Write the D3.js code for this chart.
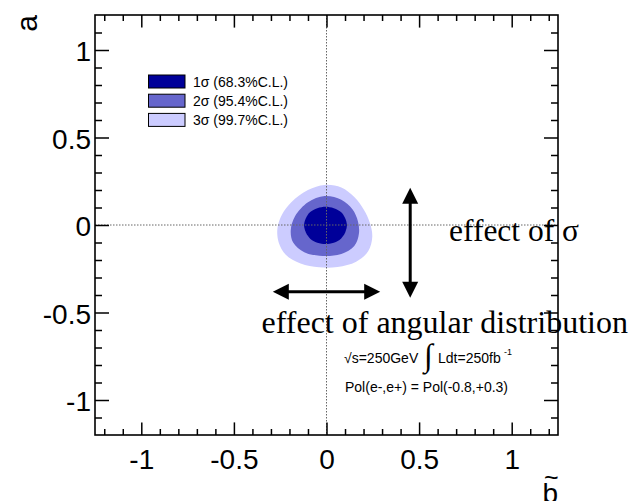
<!DOCTYPE html>
<html>
<head>
<meta charset="utf-8">
<script src="https://cdn.jsdelivr.net/npm/d3@7"></script>
<style>
  html, body { margin: 0; padding: 0; background: #fff; }
  svg { display: block; }
</style>
</head>
<body>
<svg id="chart" width="629" height="501"></svg>
<script>
// ---------------- data ----------------
const xTickValues = [-1, -0.5, 0, 0.5, 1];
const xTickLabels = ["-1", "-0.5", "0", "0.5", "1"];
const yTickValues = [-1, -0.5, 0, 0.5, 1];
const yTickLabels = ["-1", "-0.5", "0", "0.5", "1"];
const xMinorTicks = [-1.2,-1.1,-0.9,-0.8,-0.7,-0.6,-0.4,-0.3,-0.2,-0.1,0.1,0.2,0.3,0.4,0.6,0.7,0.8,0.9,1.1,1.2];
const yMinorTicks = [-1.1,-0.9,-0.8,-0.7,-0.6,-0.4,-0.3,-0.2,-0.1,0.1,0.2,0.3,0.4,0.6,0.7,0.8,0.9,1.1];

const legendLabels = ["1σ (68.3%C.L.)", "2σ (95.4%C.L.)", "3σ (99.7%C.L.)"];
const legendColors = ["#000099", "#6666cc", "#ccccff"];

// contour outlines, [b~, a~]
const contour3sigma = [
  [-0.01, 0.229], [0.08, 0.215], [0.15, 0.16], [0.2, 0.09], [0.235, 0.01],
  [0.247, -0.07], [0.225, -0.15], [0.16, -0.21], [0.06, -0.24], [-0.04, -0.242],
  [-0.14, -0.22], [-0.22, -0.17], [-0.258, -0.1], [-0.265, -0.02], [-0.24, 0.06],
  [-0.19, 0.13], [-0.1, 0.2]
];
const contour2sigma = [
  [-0.01, 0.166], [0.08, 0.145], [0.14, 0.09], [0.17, 0.02], [0.175, -0.05],
  [0.15, -0.12], [0.08, -0.165], [-0.02, -0.177], [-0.12, -0.155], [-0.18, -0.1],
  [-0.193, -0.03], [-0.17, 0.05], [-0.1, 0.13]
];
const contour1sigma = [
  [-0.005, 0.105], [0.078, 0.074], [0.11, -0.002], [0.078, -0.078],
  [-0.005, -0.109], [-0.088, -0.078], [-0.121, -0.002], [-0.088, 0.074]
];
const contours = [contour3sigma, contour2sigma, contour1sigma];
const contourColors = ["#ccccff", "#6666cc", "#000099"];

// annotation arrows [[b1,a1],[b2,a2]]
const arrowAngular = [[-0.29, -0.381], [0.29, -0.381]];
const arrowSigma = [[0.452, 0.213], [0.452, -0.415]];

// ---------------- chart ----------------
const svg = d3.select("#chart");
const L = 95, R = 558, T = 15, B = 435;
const x = d3.scaleLinear().domain([-1.25, 1.25]).range([L, R]);
const y = d3.scaleLinear().domain([-1.2, 1.2]).range([B, T]);

const sans = "'Liberation Sans', Arial, Helvetica, sans-serif";
const serif = "'Liberation Serif', 'Times New Roman', serif";

// contours
const line = d3.line().x(d => x(d[0])).y(d => y(d[1])).curve(d3.curveCatmullRomClosed.alpha(0.5));
svg.append("g").selectAll("path").data(contours).join("path")
  .attr("d", d => line(d))
  .attr("fill", (d, i) => contourColors[i])
  .attr("stroke", "none");

// dotted zero lines
svg.append("line").attr("x1", x(0)).attr("x2", x(0)).attr("y1", T).attr("y2", B)
  .attr("stroke", "#666").attr("stroke-width", 1).attr("stroke-dasharray", "1.5,1.5");
svg.append("line").attr("x1", L).attr("x2", R).attr("y1", y(0)).attr("y2", y(0))
  .attr("stroke", "#666").attr("stroke-width", 1).attr("stroke-dasharray", "1.5,1.5");

// axes
function styleAxis(g) {
  g.select(".domain").remove();
  g.selectAll(".tick line").attr("stroke", "#000").attr("stroke-width", 1.5);
  g.selectAll(".tick text").attr("fill", "#000").style("font-family", sans).style("font-size", "28px");
}
svg.append("g").attr("transform", `translate(0,${B})`)
  .call(d3.axisBottom(x).tickValues(xTickValues).tickFormat((d, i) => xTickLabels[i]).tickSize(-12.6).tickPadding(14))
  .call(styleAxis);
svg.append("g").attr("transform", `translate(0,${B})`)
  .call(d3.axisBottom(x).tickValues(xMinorTicks).tickFormat("").tickSize(-6))
  .call(styleAxis);
svg.append("g").attr("transform", `translate(0,${T})`)
  .call(d3.axisTop(x).tickValues(xTickValues).tickFormat("").tickSize(-12.6))
  .call(styleAxis);
svg.append("g").attr("transform", `translate(0,${T})`)
  .call(d3.axisTop(x).tickValues(xMinorTicks).tickFormat("").tickSize(-6))
  .call(styleAxis);
const gl = svg.append("g").attr("transform", `translate(${L},0)`)
  .call(d3.axisLeft(y).tickValues(yTickValues).tickFormat((d, i) => yTickLabels[i]).tickSize(-14).tickPadding(4))
  .call(styleAxis);
gl.selectAll(".tick text").attr("dy", "0.38em");
svg.append("g").attr("transform", `translate(${L},0)`)
  .call(d3.axisLeft(y).tickValues(yMinorTicks).tickFormat("").tickSize(-7))
  .call(styleAxis);
svg.append("g").attr("transform", `translate(${R},0)`)
  .call(d3.axisRight(y).tickValues(yTickValues).tickFormat("").tickSize(-14))
  .call(styleAxis);
svg.append("g").attr("transform", `translate(${R},0)`)
  .call(d3.axisRight(y).tickValues(yMinorTicks).tickFormat("").tickSize(-7))
  .call(styleAxis);

// axis titles
svg.append("text").attr("transform", `translate(37,${T}) rotate(-90)`)
  .attr("text-anchor", "end").style("font-family", sans).style("font-size", "30px")
  .text("a");
svg.append("text").attr("x", R).attr("y", 503).attr("text-anchor", "end")
  .style("font-family", sans).style("font-size", "28px").text("b");
svg.append("text").attr("x", R + 0.5).attr("y", 486).attr("text-anchor", "end")
  .style("font-family", sans).style("font-size", "25px").text("~");

// arrows
function arrow(pts) {
  const p1 = [x(pts[0][0]), y(pts[0][1])], p2 = [x(pts[1][0]), y(pts[1][1])];
  const dx = p2[0] - p1[0], dy = p2[1] - p1[1], len = Math.hypot(dx, dy);
  const ux = dx / len, uy = dy / len, nx = -uy, ny = ux;
  const hl = 16, hw = 8;
  const g = svg.append("g");
  g.append("line")
    .attr("x1", p1[0] + ux * (hl - 2)).attr("y1", p1[1] + uy * (hl - 2))
    .attr("x2", p2[0] - ux * (hl - 2)).attr("y2", p2[1] - uy * (hl - 2))
    .attr("stroke", "#000").attr("stroke-width", 3);
  const head = (tip, sx, sy) => {
    const bx = tip[0] + sx * hl, by = tip[1] + sy * hl;
    return `M${tip[0]},${tip[1]}L${bx + nx * hw},${by + ny * hw}L${bx - nx * hw},${by - ny * hw}Z`;
  };
  g.append("path").attr("d", head(p2, -ux, -uy)).attr("fill", "#000");
  g.append("path").attr("d", head(p1, ux, uy)).attr("fill", "#000");
}
arrow(arrowAngular);
arrow(arrowSigma);

// effect texts
svg.append("text").attr("x", 449).attr("y", 241)
  .style("font-family", serif).style("font-size", "31.5px").text("effect of σ");
svg.append("text").attr("x", 261.5).attr("y", 333)
  .style("font-family", serif).style("font-size", "32px").text("effect of angular distribution");

// run conditions
const ann = svg.append("g").style("font-family", sans).attr("fill", "#000");
ann.append("text").attr("x", 344).attr("y", 363).style("font-size", "14px").text("√s=250GeV");
ann.append("text").attr("x", 424).attr("y", 366).style("font-size", "32px").style("font-family", serif).text("∫");
ann.append("text").attr("x", 438).attr("y", 363).style("font-size", "14px").text("Ldt=250fb");
ann.append("text").attr("x", 504).attr("y", 355).style("font-size", "9px").text("-1");
ann.append("text").attr("x", 345).attr("y", 392).style("font-size", "14px").text("Pol(e-,e+) = Pol(-0.8,+0.3)");

// legend
const leg = svg.append("g");
legendLabels.forEach((lab, i) => {
  const yy = 75 + i * 19.2;
  leg.append("rect").attr("x", 148.5).attr("y", yy).attr("width", 36.5).attr("height", 13)
    .attr("fill", legendColors[i]).attr("stroke", "#000").attr("stroke-width", 1);
  leg.append("text").attr("x", 193).attr("y", yy + 11.5)
    .style("font-family", sans).style("font-size", "14px").text(lab);
});

// frame
svg.append("rect").attr("x", L).attr("y", T).attr("width", R - L).attr("height", B - T)
  .attr("fill", "none").attr("stroke", "#000").attr("stroke-width", 1.6);
</script>
</body>
</html>
